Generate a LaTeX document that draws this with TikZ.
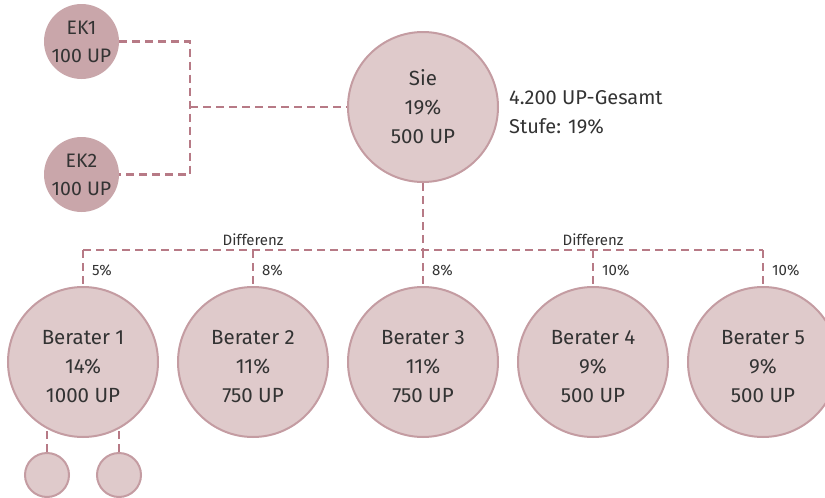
\documentclass[tikz,border=0pt]{standalone}
\usepackage{fontspec}
\setmainfont{Fira Sans}[Scale=1]
\definecolor{ekfill}{HTML}{C9A6AA}
\definecolor{cfill}{HTML}{DFCACB}
\definecolor{cborder}{HTML}{C49CA2}
\definecolor{dashc}{HTML}{B77A86}
\definecolor{txt}{HTML}{333333}
\newcommand{\downsh}{\rule{0pt}{22.5pt}}
\tikzset{
  ek/.style={circle, fill=ekfill, minimum size=75pt, inner sep=0pt, align=center, text=txt, font=\fontsize{19.5}{28}\selectfont},
  big/.style={circle, fill=cfill, draw=cborder, line width=2pt, minimum size=150pt, inner sep=0pt, align=center, text=txt, font=\fontsize{20.5}{29}\selectfont},
  small/.style={circle, fill=cfill, draw=cborder, line width=2pt, minimum size=44pt, inner sep=0pt},
  conn/.style={draw=dashc, line width=2.8pt, dash pattern=on 8pt off 5pt},
  lbl/.style={text=txt, font=\fontsize{15}{17}\selectfont, inner sep=0pt},
  info/.style={text=txt, font=\fontsize{20}{29}\selectfont, inner sep=0pt, anchor=west, align=left}
}
\begin{document}
\begin{tikzpicture}[x=1pt,y=-1pt]
\useasboundingbox (0,0) rectangle (825,498);
% nodes
\node[ek] (ek1) at (81.5,41.5) {EK1\\100 UP};
\node[ek] (ek2) at (81.5,174.5) {EK2\\100 UP};
\node[big] (sie) at (423,107) {Sie\\19\%\\500 UP};
\node[info] (ges) at (509,112) {4.200 UP-Gesamt\\Stufe: 19\%};
\node[big] (b1) at (83,362) {\downsh Berater 1\\14\%\\1000 UP};
\node[big] (b2) at (253,362) {\downsh Berater 2\\11\%\\750 UP};
\node[big] (b3) at (423,362) {\downsh Berater 3\\11\%\\750 UP};
\node[big] (b4) at (593,362) {\downsh Berater 4\\9\%\\500 UP};
\node[big] (b5) at (763,362) {\downsh Berater 5\\9\%\\500 UP};
\node[small] (s1) at (47,475) {};
\node[small] (s2) at (119,475) {};
% coordinates
\coordinate (j1) at (190,41.5);
\coordinate (j2) at (190,174.5);
\coordinate (jm) at (190,107);
\coordinate (h3) at (423,250);
\coordinate (h1) at (83,250);
\coordinate (h2) at (253,250);
\coordinate (h4) at (593,250);
\coordinate (h5) at (763,250);
% connectors
\draw[conn] (ek1.east) -- (j1) -- (j2) -- (ek2.east);
\draw[conn] (jm) -- (sie.west);
\draw[conn] (sie.south) -- (h3);
\draw[conn] (h1) -- (h5);
\draw[conn] (h1) -- (b1.north);
\draw[conn] (h2) -- (b2.north);
\draw[conn] (h3) -- (b3.north);
\draw[conn] (h4) -- (b4.north);
\draw[conn] (h5) -- (b5.north);
\draw[conn] (s1.north) -- (s1.north |- b1.241);
\draw[conn] (s2.north) -- (s2.north |- b1.299);
% labels
\node[lbl, anchor=base] (d1) at (253,245) {Differenz};
\node[lbl, anchor=base] (d2) at (593,245) {Differenz};
\node[lbl, anchor=west] (p1) at (92,270) {5\%};
\node[lbl, anchor=west] (p2) at (262,270) {8\%};
\node[lbl, anchor=west] (p3) at (432,270) {8\%};
\node[lbl, anchor=west] (p4) at (602,270) {10\%};
\node[lbl, anchor=west] (p5) at (772,270) {10\%};
\end{tikzpicture}
\end{document}
